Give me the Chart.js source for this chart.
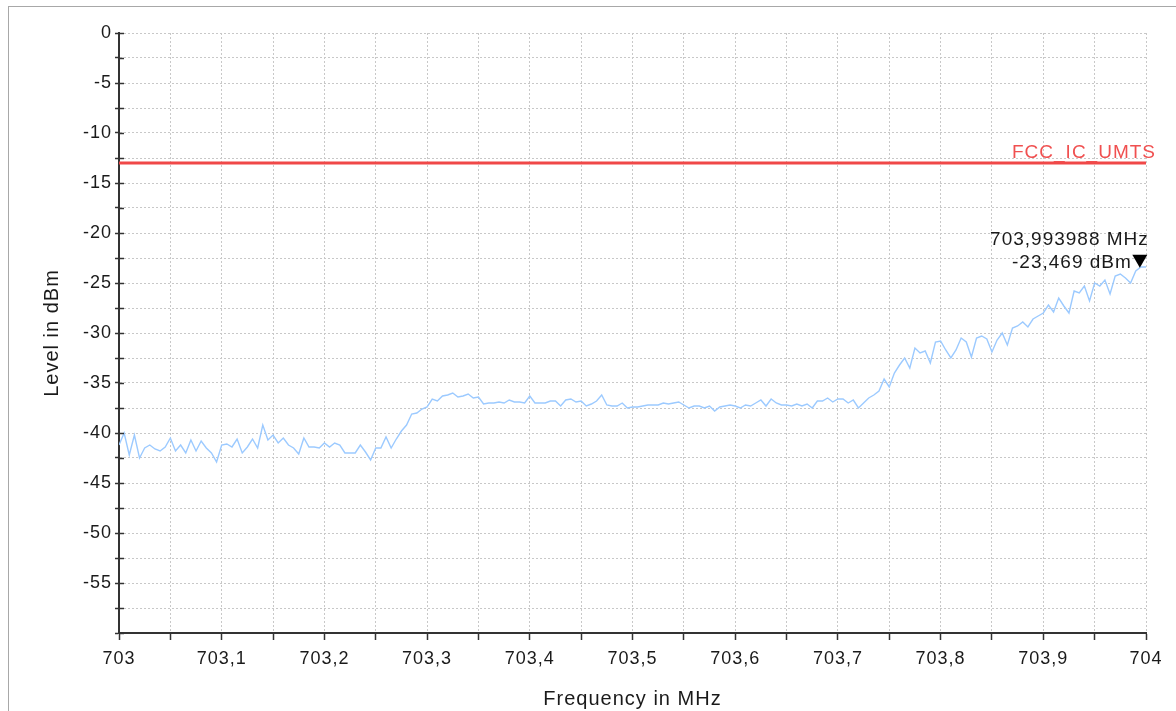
<!DOCTYPE html>
<html>
<head>
<meta charset="utf-8">
<script src="https://cdn.jsdelivr.net/npm/chart.js@4.4.0/dist/chart.umd.min.js"></script>
<style>
  html, body { margin: 0; padding: 0; background: #fff; }
  canvas { display: block; }
</style>
</head>
<body>
<canvas id="spectrum" width="1176" height="711"></canvas>
<script>
// sweep: 703..704 MHz, 5 kHz per point
const startFreq = 703;
const stopFreq = 704;
const stepFreq = 0.005;

const levels = [
  -41.2, -40.0, -42.2, -40.2, -42.5, -41.5, -41.2, -41.6, -41.8, -41.4,
  -40.5, -41.8, -41.2, -42.0, -40.7, -41.8, -40.8, -41.5, -42.0, -42.9,
  -41.2, -41.1, -41.4, -40.6, -42.0, -41.4, -40.6, -41.5, -39.2, -40.7,
  -40.2, -41.0, -40.5, -41.2, -41.5, -42.1, -40.5, -41.4, -41.4, -41.5,
  -41.0, -41.4, -41.0, -41.2, -42.0, -42.0, -42.0, -41.2, -41.9, -42.7,
  -41.5, -41.5, -40.4, -41.5, -40.6, -39.8, -39.2, -38.1, -38.0, -37.6,
  -37.4, -36.6, -36.8, -36.3, -36.2, -36.0, -36.4, -36.3, -36.1, -36.5,
  -36.4, -37.1, -37.0, -37.0, -36.9, -37.0, -36.7, -36.9, -36.9, -37.0,
  -36.3, -37.0, -37.0, -37.0, -36.8, -36.8, -37.3, -36.7, -36.6, -36.9,
  -36.8, -37.3, -37.1, -36.8, -36.2, -37.2, -37.3, -37.3, -37.0, -37.5,
  -37.4, -37.4, -37.3, -37.2, -37.2, -37.2, -37.0, -37.1, -37.0, -36.9,
  -37.2, -37.5, -37.3, -37.3, -37.5, -37.3, -37.8, -37.4, -37.3, -37.2,
  -37.3, -37.5, -37.2, -37.3, -37.0, -36.7, -37.3, -36.6, -37.0, -37.2,
  -37.2, -37.3, -37.1, -37.3, -37.1, -37.5, -36.8, -36.8, -36.5, -36.9,
  -36.6, -36.6, -37.0, -36.7, -37.5, -37.0, -36.5, -36.2, -35.8, -34.6,
  -35.4, -34.0, -33.2, -32.5, -33.5, -31.5, -32.0, -31.8, -33.0, -30.9,
  -30.8, -31.7, -32.5, -31.7, -30.5, -30.9, -32.4, -30.5, -30.3, -30.6,
  -31.9, -30.7, -30.0, -31.2, -29.5, -29.3, -28.9, -29.4, -28.6, -28.3,
  -28.0, -27.2, -27.9, -26.5, -27.3, -28.0, -25.8, -26.0, -25.3, -26.8,
  -25.0, -25.3, -24.7, -26.1, -24.3, -24.1, -24.5, -25.0, -23.8, -23.4,
  -23.4
];
const freqs = levels.map((_, i) => +(startFreq + i * stepFreq).toFixed(3));

// limit line
const limitLevel = [-13, -13];
const limitFreq = [startFreq, stopFreq];
const limitName = 'FCC_IC_UMTS';

// marker
const markerFreq = [703.993988];
const markerLevel = [-23.469];
const markerText = ['703,993988 MHz', '-23,469 dBm'];

// tick labels
const xTickLabels = ['703', '703,1', '703,2', '703,3', '703,4', '703,5', '703,6', '703,7', '703,8', '703,9', '704'];
const yTickLabels = ['0', '-5', '-10', '-15', '-20', '-25', '-30', '-35', '-40', '-45', '-50', '-55'];

const FONT = 'Liberation Sans, Arial, sans-serif';
const SPACING = '1px';

const extras = {
  id: 'extras',
  beforeUpdate(chart) { chart.ctx.letterSpacing = SPACING; },
  beforeDraw(chart) {
    const ctx = chart.ctx;
    ctx.save();
    ctx.strokeStyle = '#a8a8a8';
    ctx.lineWidth = 1;
    ctx.strokeRect(8.5, 6.5, 2000, 2000);
    ctx.restore();
    ctx.letterSpacing = SPACING;
  },
  afterDraw(chart) {
    const ctx = chart.ctx;
    const xs = chart.scales.x, ys = chart.scales.y;
    ctx.save();
    ctx.letterSpacing = SPACING;
    // y ticks cross the axis
    ctx.strokeStyle = '#333';
    ctx.lineWidth = 1.5;
    ys.ticks.forEach(t => {
      const py = Math.round(ys.getPixelForValue(t.value)) + 0.5;
      ctx.beginPath();
      ctx.moveTo(xs.left, py);
      ctx.lineTo(xs.left + 5, py);
      ctx.stroke();
    });

    // limit name
    const ly = ys.getPixelForValue(limitLevel[1]);
    ctx.fillStyle = '#f05050';
    ctx.font = '19px ' + FONT;
    ctx.textAlign = 'right';
    ctx.textBaseline = 'alphabetic';
    ctx.fillText(limitName, xs.right + 10, ly - 5);

    // marker
    const mx = xs.getPixelForValue(markerFreq[0]);
    const my = ys.getPixelForValue(markerLevel[0]);
    ctx.fillStyle = '#000';
    ctx.beginPath();
    ctx.moveTo(mx - 7.5, my - 13);
    ctx.lineTo(mx + 7.5, my - 13);
    ctx.lineTo(mx, my);
    ctx.closePath();
    ctx.fill();
    ctx.fillStyle = '#1a1a1a';
    ctx.textBaseline = 'middle';
    ctx.fillText(markerText[0], mx + 9, my - 28);
    ctx.fillText(markerText[1], mx - 8, my - 5);
    ctx.restore();
  }
};

new Chart(document.getElementById('spectrum'), {
  type: 'line',
  data: {
    datasets: [
      {
        data: freqs.map((f, i) => ({ x: f, y: levels[i] })),
        borderColor: '#9ccaff',
        borderWidth: 1.4,
        pointRadius: 0,
        tension: 0,
      },
      {
        data: limitFreq.map((f, i) => ({ x: f, y: limitLevel[i] })),
        borderColor: '#f04848',
        borderWidth: 3,
        pointRadius: 0,
      },
    ],
  },
  options: {
    responsive: false,
    animation: false,
    events: [],
    layout: { padding: { left: 0, top: 33, right: 30, bottom: 0 } },
    plugins: { legend: { display: false }, tooltip: { enabled: false } },
    scales: {
      x: {
        type: 'linear',
        min: startFreq,
        max: stopFreq,
        afterFit: s => { s.height = 78; },
        ticks: {
          stepSize: 0.05,
          autoSkip: false,
          maxRotation: 0,
          padding: 8,
          color: '#1a1a1a',
          font: { family: FONT, size: 18 },
          callback: (v, i) => (i % 2 === 0 ? xTickLabels[i / 2] : ''),
        },
        grid: { color: '#c8c8c8', lineWidth: 1, tickColor: '#333', tickLength: 7, tickWidth: 1.5 },
        border: { color: '#333', width: 2, dash: [2, 2] },
        title: {
          display: true,
          text: 'Frequency in MHz',
          color: '#1a1a1a',
          font: { family: FONT, size: 20 },
          padding: { top: 0, bottom: 0 },
        },
      },
      y: {
        min: -60,
        max: 0,
        afterFit: s => { s.width = 119; },
        ticks: {
          stepSize: 2.5,
          autoSkip: false,
          padding: 3,
          color: '#1a1a1a',
          font: { family: FONT, size: 18 },
          callback: v => (v % 5 === 0 && v > -60 ? yTickLabels[-v / 5] : ''),
        },
        grid: { color: '#c8c8c8', lineWidth: 1, tickColor: '#333', tickLength: 4, tickWidth: 1.5 },
        border: { color: '#333', width: 2, dash: [2, 2] },
        title: {
          display: true,
          text: 'Level in dBm',
          color: '#1a1a1a',
          font: { family: FONT, size: 20 },
          padding: { top: 40, bottom: 0 },
        },
      },
    },
  },
  plugins: [extras],
});
</script>
</body>
</html>
